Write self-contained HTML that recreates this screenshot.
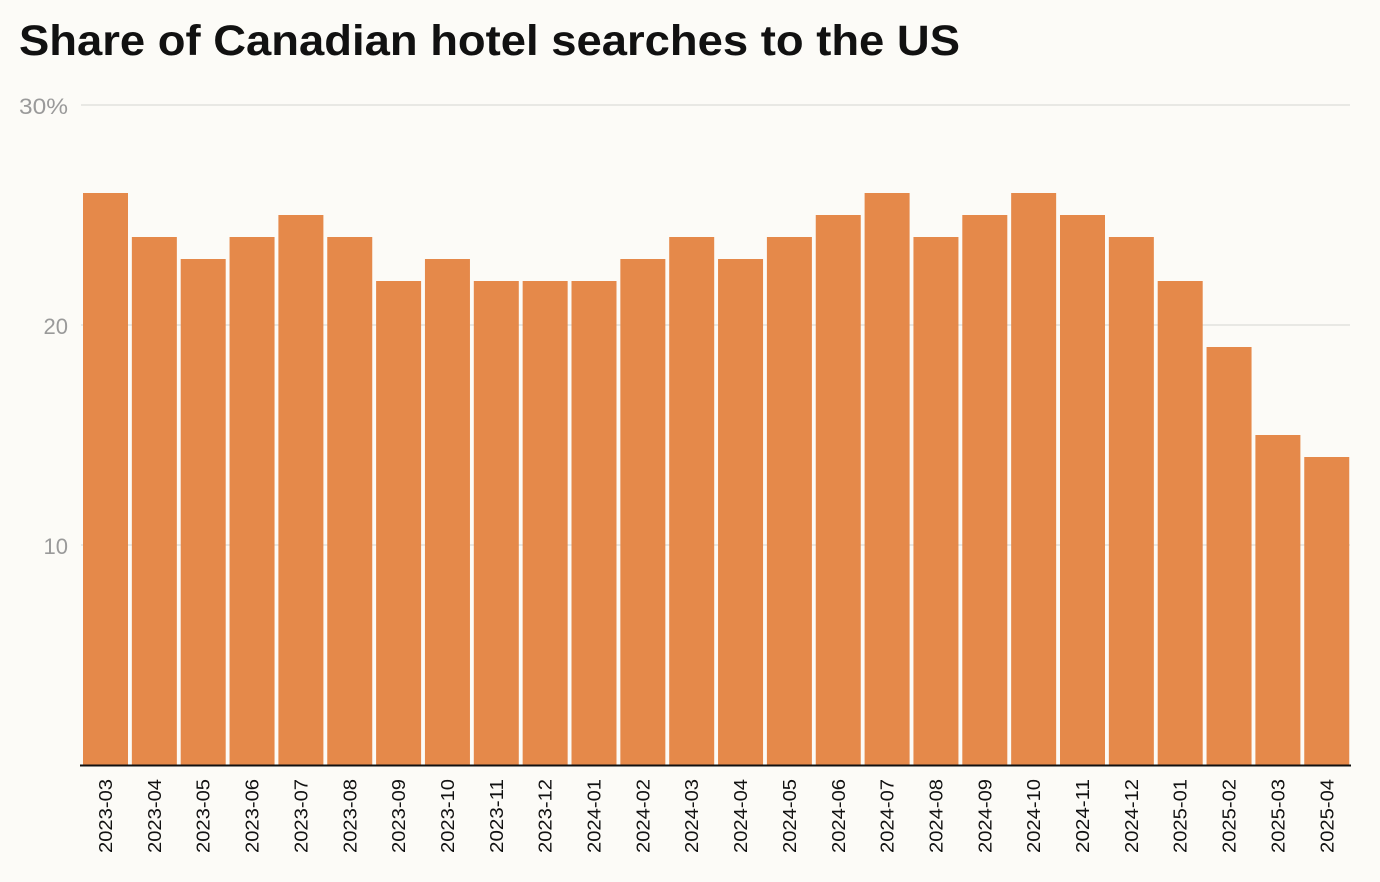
<!DOCTYPE html>
<html><head><meta charset="utf-8"><style>
body{margin:0;background:#fcfbf7;}
svg{display:block;font-family:"Liberation Sans",Arial,sans-serif;}
</style></head><body>
<svg width="1380" height="882" viewBox="0 0 1380 882">
<rect width="1380" height="882" fill="#fcfbf7"/>
<text x="19" y="55" font-size="43" font-weight="bold" fill="#111" textLength="941" lengthAdjust="spacingAndGlyphs">Share of Canadian hotel searches to the US</text>
<g stroke="#e2e1dd" stroke-width="1.5">
<line x1="81" y1="105" x2="1350" y2="105"/>
<line x1="81" y1="325" x2="1350" y2="325"/>
<line x1="81" y1="545" x2="1350" y2="545"/>
</g>
<g font-size="22" fill="#9a9a9a" text-anchor="end">
<text x="68" y="114" textLength="49" lengthAdjust="spacingAndGlyphs">30%</text>
<text x="68" y="334">20</text>
<text x="68" y="554">10</text>
</g>
<g id="bars" fill="#e5894a"></g>
<g id="labels" font-size="18" fill="#111"></g>
<line x1="80" y1="765.5" x2="1351" y2="765.5" stroke="#111" stroke-width="2"/>
</svg>
<script>
var v=[26,24,23,24,25,24,22,23,22,22,22,23,24,23,24,25,26,24,25,26,25,24,22,19,15,14];
var l=["2023-03","2023-04","2023-05","2023-06","2023-07","2023-08","2023-09","2023-10","2023-11","2023-12","2024-01","2024-02","2024-03","2024-04","2024-05","2024-06","2024-07","2024-08","2024-09","2024-10","2024-11","2024-12","2025-01","2025-02","2025-03","2025-04"];
var ns="http://www.w3.org/2000/svg",b=document.getElementById("bars"),t=document.getElementById("labels");
for(var i=0;i<26;i++){var x=83+i*48.85,y=765-v[i]*22;
var r=document.createElementNS(ns,"rect");r.setAttribute("x",x);r.setAttribute("y",y);r.setAttribute("width",45);r.setAttribute("height",765-y);b.appendChild(r);
var s=document.createElementNS(ns,"text");var cx=x+22.5+6.5;s.setAttribute("transform","translate("+cx+",853) rotate(-90)");s.setAttribute("textLength","74");s.setAttribute("lengthAdjust","spacingAndGlyphs");s.textContent=l[i];t.appendChild(s);}
</script>
</body></html>
